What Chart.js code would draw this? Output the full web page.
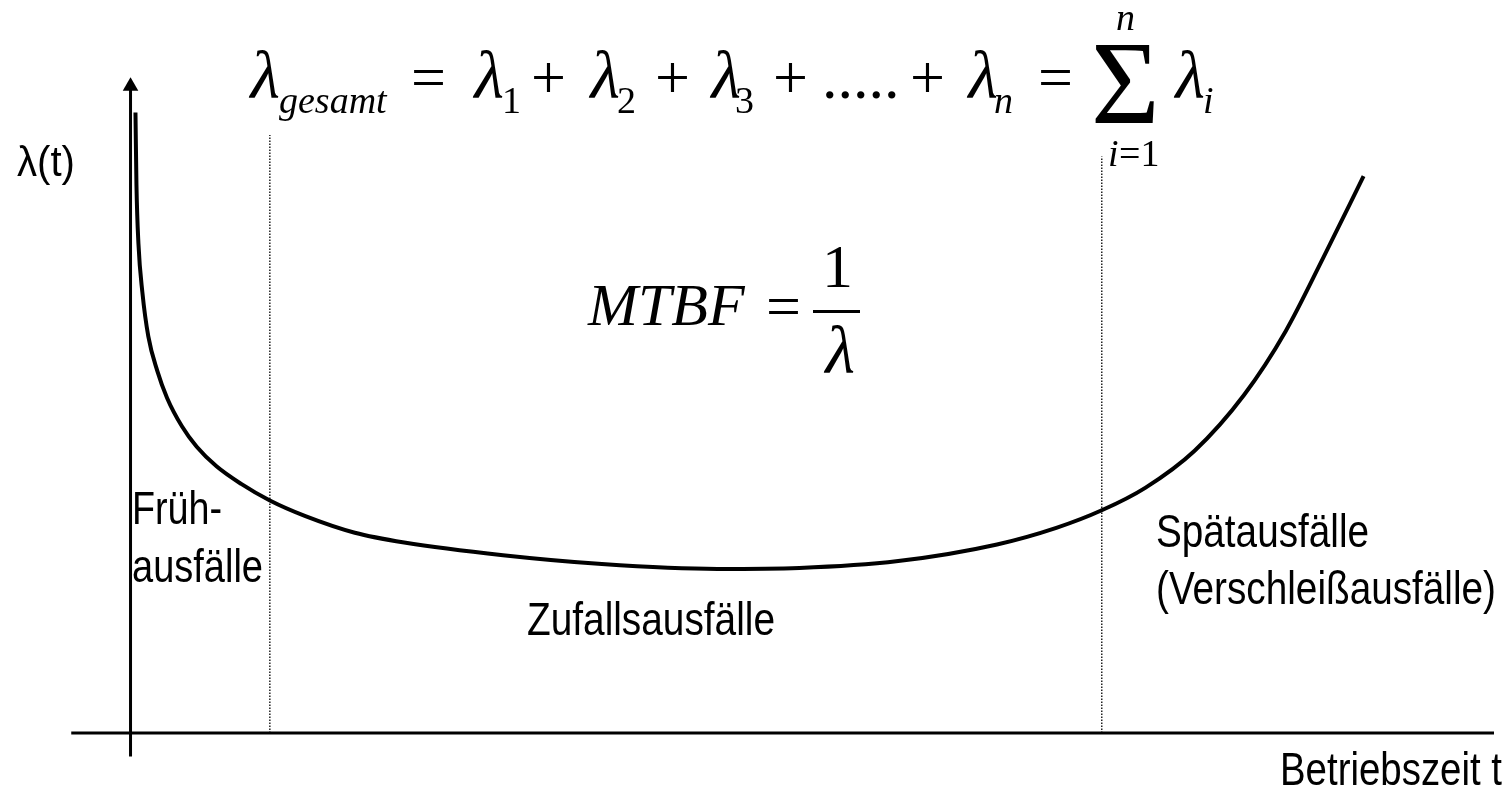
<!DOCTYPE html>
<html>
<head>
<meta charset="utf-8">
<script src="https://cdn.jsdelivr.net/npm/chart.js@4.4.0/dist/chart.umd.min.js"></script>
<style>
    body { margin: 0; background: #fff; }
    #wrap { width: 1503px; height: 789px; position: relative; }
</style>
</head>
<body>
<div id="wrap"><canvas id="myChart"></canvas></div>
<script>
// Badewannenkurve: Betriebszeit t (x) gegen Ausfallrate lambda(t) (y)
var timeValues   = [0.5, 0.6, 0.8, 1.2, 1.8, 2.7, 3.7, 5.2, 6.7, 8.7, 11.2, 14.1, 17.7, 22.7, 27.7, 37.7, 47.7, 59.4, 67.7, 77.7, 87.7, 93.7, 98.3, 102.7, 107.7, 112.7, 116.9, 120.7, 124.8];
var lambdaValues = [63.5, 56.1, 50.1, 45.1, 40.6, 37.1, 34.3, 31.4, 29.3, 27.3, 25.5, 23.8, 22.2, 20.5, 19.5, 18.2, 17.3, 16.8, 16.9, 17.6, 19.3, 21.0, 22.8, 25.1, 28.9, 34.6, 41.1, 48.6, 57.0];

// Grenzen der Phasen (gepunktete Linien) und ihre Höhe
var phaseBounds = [14.1, 98.3];
var phaseTops   = [61.2, 59.0];

// Achsen
var xAxisRange = [-6, 138];
var yAxisRange = [-2.4, 66.2];

var phaseLabels = ["Früh-", "ausfälle", "Zufallsausfälle", "Spätausfälle", "(Verschleißausfälle)"];
var yLabel = "λ(t)";
var xLabel = "Betriebszeit t";

var curve = timeValues.map(function (t, i) {
    return { x: t, y: lambdaValues[i] };
});

var datasets = [
    {
        data: curve,
        borderColor: "#000",
        borderWidth: 4,
        pointRadius: 0,
        cubicInterpolationMode: "monotone"
    },
    {
        data: [{ x: xAxisRange[0], y: 0 }, { x: xAxisRange[1], y: 0 }],
        borderColor: "#000",
        borderWidth: 3,
        pointRadius: 0
    },
    {
        data: [{ x: 0, y: yAxisRange[0] }, { x: 0, y: yAxisRange[1] }],
        borderColor: "#000",
        borderWidth: 3,
        pointRadius: [0, 9],
        pointStyle: "triangle",
        pointBackgroundColor: "#000",
        pointBorderWidth: 0
    }
];

phaseBounds.forEach(function (b, i) {
    datasets.push({
        data: [{ x: b, y: 0 }, { x: b, y: phaseTops[i] }],
        borderColor: "#222",
        borderWidth: 1.5,
        borderDash: [1.5, 1.5],
        pointRadius: 0
    });
});

var SANS = "46px 'Liberation Sans', Arial, sans-serif";
var SERIF = "'Liberation Serif', 'Times New Roman', serif";

function txt(ctx, s, x, y, font, maxW) {
    ctx.font = font;
    ctx.textAlign = "left";
    if (maxW) ctx.fillText(s, x, y, maxW);
    else ctx.fillText(s, x, y);
}

// lambda rechtsbündig an x setzen, damit der Index direkt anschliesst
function lam(ctx, x, y) {
    ctx.font = "italic 68px " + SERIF;
    ctx.textAlign = "right";
    ctx.fillText("λ", x, y);
    ctx.textAlign = "left";
}

var textPlugin = {
    id: "texts",
    afterDraw: function (chart) {
        var ctx = chart.ctx;
        ctx.save();
        ctx.fillStyle = "#000";
        ctx.textBaseline = "alphabetic";

        // Beschriftungen
        txt(ctx, yLabel, 17, 176, "42px 'Liberation Sans', Arial, sans-serif", 58);
        txt(ctx, phaseLabels[0], 132, 524, SANS, 90);
        txt(ctx, phaseLabels[1], 132, 582, SANS, 131);
        txt(ctx, phaseLabels[2], 527, 635, SANS, 248);
        txt(ctx, phaseLabels[3], 1156, 547, SANS, 213);
        txt(ctx, phaseLabels[4], 1156, 604, SANS, 340);
        txt(ctx, xLabel, 1280, 785, SANS, 222);

        // Formel oben
        var bigUp = "62px " + SERIF;
        var sub = "italic 38px " + SERIF;
        var subUp = "38px " + SERIF;
        lam(ctx, 280, 98);
        txt(ctx, "gesamt", 279, 113, sub, 109);
        txt(ctx, "=", 411, 98, bigUp);
        lam(ctx, 504, 98);
        txt(ctx, "1", 502, 113, subUp);
        txt(ctx, "+", 531, 98, bigUp);
        lam(ctx, 620, 98);
        txt(ctx, "2", 617, 113, subUp);
        txt(ctx, "+", 655, 98, bigUp);
        lam(ctx, 741, 98);
        txt(ctx, "3", 735, 113, subUp);
        txt(ctx, "+", 773, 98, bigUp);
        txt(ctx, ".....", 822, 98, bigUp, 80);
        txt(ctx, "+", 910, 98, bigUp);
        lam(ctx, 998, 98);
        txt(ctx, "n", 994, 113, sub);
        txt(ctx, "=", 1038, 98, bigUp);
        txt(ctx, "Σ", 1091, 123, "118px " + SERIF, 72);
        txt(ctx, "n", 1116, 30, sub);
        txt(ctx, "i", 1108, 166, sub);
        txt(ctx, "=1", 1119, 166, subUp);
        lam(ctx, 1205, 98);
        txt(ctx, "i", 1203, 113, sub);

        // MTBF = 1 / lambda
        txt(ctx, "MTBF", 588, 325, "italic 60px " + SERIF, 162);
        txt(ctx, "=", 766, 327, bigUp);
        txt(ctx, "1", 822, 287, bigUp);
        lam(ctx, 855, 373);
        ctx.fillRect(813, 310, 47, 3);

        ctx.restore();
    }
};

var myChart = new Chart(document.getElementById("myChart"), {
    type: "scatter",
    data: { datasets: datasets },
    options: {
        responsive: true,
        maintainAspectRatio: false,
        animation: false,
        showLine: true,
        layout: { padding: 0 },
        elements: { line: { fill: false } },
        plugins: {
            legend: { display: false },
            tooltip: { enabled: false }
        },
        scales: {
            x: { type: "linear", display: false, min: -12.3, max: 138 },
            y: { type: "linear", display: false, min: -4.8, max: 74.1 }
        }
    },
    plugins: [textPlugin]
});
</script>
</body>
</html>
